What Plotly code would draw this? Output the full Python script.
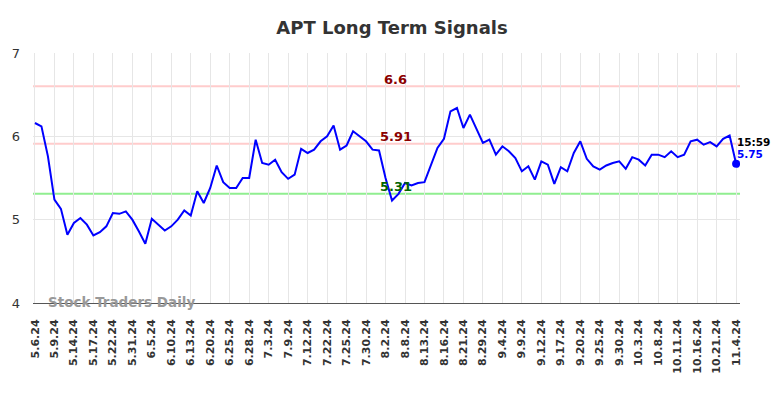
import plotly.graph_objects as go

title = "APT Long Term Signals"
tick_labels = ["5.6.24", "5.9.24", "5.14.24", "5.17.24", "5.22.24", "5.31.24", "6.5.24", "6.10.24",
               "6.13.24", "6.20.24", "6.25.24", "6.28.24", "7.3.24", "7.9.24", "7.12.24", "7.22.24",
               "7.25.24", "7.30.24", "8.2.24", "8.8.24", "8.13.24", "8.16.24", "8.21.24", "8.29.24",
               "9.4.24", "9.9.24", "9.12.24", "9.17.24", "9.20.24", "9.25.24", "9.30.24", "10.3.24",
               "10.8.24", "10.11.24", "10.16.24", "10.21.24", "11.4.24"]
points_per_tick = 3

prices = [6.16, 6.12, 5.76, 5.24, 5.13, 4.82, 4.96, 5.02, 4.94, 4.81,
          4.85, 4.92, 5.08, 5.07, 5.10, 5.00, 4.86, 4.71, 5.01, 4.94,
          4.87, 4.92, 5.00, 5.11, 5.05, 5.34, 5.20, 5.38, 5.65, 5.45,
          5.38, 5.38, 5.50, 5.50, 5.96, 5.68, 5.66, 5.72, 5.57, 5.49,
          5.54, 5.85, 5.80, 5.84, 5.94, 6.00, 6.13, 5.84, 5.89, 6.06,
          6.00, 5.94, 5.84, 5.83, 5.50, 5.23, 5.31, 5.44, 5.41, 5.44,
          5.45, 5.66, 5.86, 5.97, 6.30, 6.34, 6.10, 6.26, 6.08, 5.92,
          5.96, 5.78, 5.88, 5.82, 5.74, 5.58, 5.64, 5.48, 5.70, 5.66,
          5.43, 5.63, 5.58, 5.80, 5.94, 5.73, 5.64, 5.60, 5.65, 5.68,
          5.70, 5.61, 5.75, 5.72, 5.65, 5.78, 5.78, 5.75, 5.82, 5.75,
          5.78, 5.94, 5.96, 5.90, 5.93, 5.88, 5.97, 6.01, 5.67]

signal_levels = [6.6, 5.91, 5.31]
signal_labels = ["6.6", "5.91", "5.31"]
signal_line_colors = ["#ffcccc", "#ffcccc", "#90ee90"]
signal_text_colors = ["#8b0000", "#8b0000", "#006400"]

last_time = "15:59"
last_label = "5.75"
watermark = "Stock Traders Daily"

x = list(range(len(prices)))
tickvals = [i * points_per_tick for i in range(len(tick_labels))]

fig = go.Figure()
for lvl, col in zip(signal_levels, signal_line_colors):
    fig.add_shape(type="line", xref="paper", x0=0, x1=1, yref="y", y0=lvl, y1=lvl,
                  line=dict(color=col, width=2), layer="below")

fig.add_trace(go.Scatter(x=x, y=prices, mode="lines", line=dict(color="blue", width=2),
                         hoverinfo="skip", showlegend=False))
fig.add_trace(go.Scatter(x=[x[-1]], y=[prices[-1]], mode="markers",
                         marker=dict(color="blue", size=8), showlegend=False))

label_x = 55.6
for lvl, txt, col in zip(signal_levels, signal_labels, signal_text_colors):
    fig.add_annotation(x=label_x, y=lvl, text=txt, showarrow=False, yshift=7,
                       font=dict(color=col, size=13, family="DejaVu Sans", weight="bold"))

fig.add_annotation(x=x[-1], y=prices[-1], text=last_time, showarrow=False, xanchor="left",
                   yshift=22, xshift=-1, font=dict(color="black", size=10.5, family="DejaVu Sans", weight="bold"))
fig.add_annotation(x=x[-1], y=prices[-1], text=last_label, showarrow=False, xanchor="left",
                   yshift=10, xshift=-1, font=dict(color="blue", size=10.5, family="DejaVu Sans", weight="bold"))
fig.add_annotation(xref="paper", yref="y", x=0.018, y=4, text=watermark, showarrow=False,
                   xanchor="left", yshift=1,
                   font=dict(color="#999999", size=13.5, family="DejaVu Sans", weight="bold"))

fig.update_layout(
    width=784, height=398,
    margin=dict(l=33, r=44, t=53, b=95),
    paper_bgcolor="white", plot_bgcolor="white",
    title=dict(text=title, x=0.5, xanchor="center", y=0.93, yanchor="middle",
               font=dict(size=18, color="#333333", family="DejaVu Sans", weight="bold")),
    showlegend=False,
)
fig.update_xaxes(range=[-0.3, 108.6], tickvals=tickvals, ticktext=tick_labels, tickangle=-90,
                 showgrid=True, gridcolor="#e6e6e6", gridwidth=1, zeroline=False,
                 showline=True, linecolor="#555555", linewidth=1, ticklabelstandoff=11,
                 tickfont=dict(size=11, color="#333333", family="DejaVu Sans", weight="bold"))
fig.update_yaxes(range=[4, 7], tickvals=[4, 5, 6, 7], showgrid=True, gridcolor="#e6e6e6",
                 zeroline=False, ticks="", ticklabelstandoff=12,
                 tickfont=dict(size=13, color="#333333", family="DejaVu Sans"))

fig.write_html("out.html", config={"displayModeBar": False},
               post_script="document.body.style.margin='0';")
